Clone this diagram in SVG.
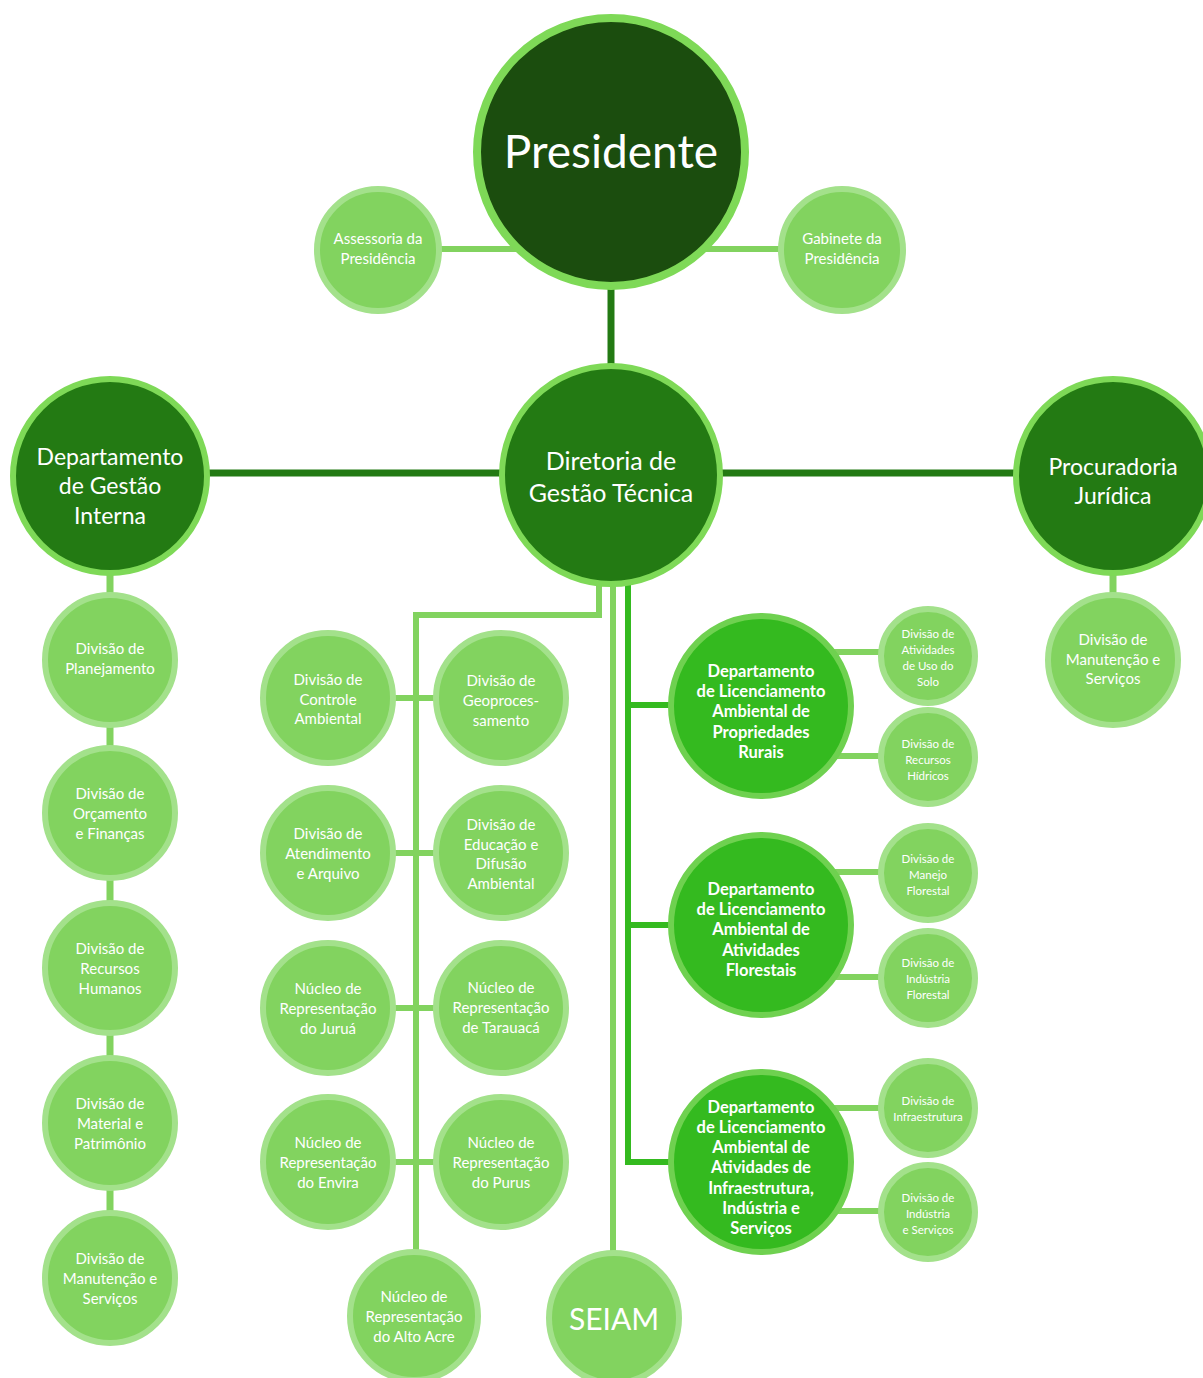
<svg xmlns="http://www.w3.org/2000/svg" width="1203" height="1378" viewBox="0 0 1203 1378">
<style>
.bg{fill:#ffffff}
.cd{stroke:#237A13;stroke-width:7;fill:none}
.cl{stroke:#82D35F;stroke-width:6;fill:none}
.cb{stroke:#34BA1F;stroke-width:6;fill:none}
.pres{fill:#1B4D0E;stroke:#7ED957;stroke-width:8}
.dk{fill:#237A13;stroke:#7ED957;stroke-width:6}
.lic{fill:#34BA1F;stroke:#6FD150;stroke-width:6}
.lt{fill:#82D35F;stroke:#A3E18B;stroke-width:6}
text{font-family:Lato,"Open Sans","Liberation Sans",sans-serif;fill:#ffffff;text-anchor:middle;dominant-baseline:central}
.t46{font-size:46px}
.t23{font-size:23px}
.t24{font-size:25px}
.t15{font-size:15px}
.tb{font-size:16.5px;font-weight:bold}
.t11{font-size:11.5px}
.t30{font-size:30px}
</style>
<rect class="bg" x="0" y="0" width="1203" height="1378"/>
<g id="connectors">
<line class="cl" x1="440" y1="249" x2="525" y2="249"/>
<line class="cl" x1="697" y1="249" x2="782" y2="249"/>
<line class="cd" x1="611" y1="286" x2="611" y2="368"/>
<line class="cd" x1="205" y1="473" x2="1018" y2="473"/>
<line class="cl" x1="110" y1="570" x2="110" y2="1215" style="stroke-width:7"/>
<line class="cl" x1="1113" y1="570" x2="1113" y2="598" style="stroke-width:7"/>
<path class="cl" d="M599 580 V615 H416 V1252"/>
<line class="cl" x1="380" y1="698" x2="450" y2="698"/>
<line class="cl" x1="380" y1="853" x2="450" y2="853"/>
<line class="cl" x1="380" y1="1008" x2="450" y2="1008"/>
<line class="cl" x1="380" y1="1162" x2="450" y2="1162"/>
<line class="cl" x1="613" y1="582" x2="613" y2="1255"/>
<path class="cb" d="M628 582 V1162 H672"/>
<line class="cb" x1="628" y1="705" x2="672" y2="705"/>
<line class="cb" x1="628" y1="925" x2="672" y2="925"/>
<line class="cl" x1="830" y1="652" x2="885" y2="652"/>
<line class="cl" x1="830" y1="756" x2="885" y2="756"/>
<line class="cl" x1="830" y1="872" x2="885" y2="872"/>
<line class="cl" x1="830" y1="977" x2="885" y2="977"/>
<line class="cl" x1="830" y1="1108" x2="885" y2="1108"/>
<line class="cl" x1="830" y1="1211" x2="885" y2="1211"/>
</g>
<g id="presidente"><circle class="pres" cx="611" cy="152" r="134"/><text class="t46" x="611" y="150">Presidente</text></g>
<g id="assessoria"><circle class="lt" cx="378" cy="250" r="61"/><text class="t15" x="378" y="238">Assessoria da</text><text class="t15" x="378" y="258">Presidência</text></g>
<g id="gabinete"><circle class="lt" cx="842" cy="250" r="61"/><text class="t15" x="842" y="238">Gabinete da</text><text class="t15" x="842" y="258">Presidência</text></g>
<g id="diretoria"><circle class="dk" cx="611" cy="475" r="109"/><text class="t24" x="611" y="460">Diretoria de</text><text class="t24" x="611" y="492">Gestão Técnica</text></g>
<g id="dgi"><circle class="dk" cx="110" cy="476" r="97"/><text class="t23" x="110" y="456">Departamento</text><text class="t23" x="110" y="485">de Gestão</text><text class="t23" x="110" y="515">Interna</text></g>
<g id="procuradoria"><circle class="dk" cx="1113" cy="476" r="97"/><text class="t23" x="1113" y="466">Procuradoria</text><text class="t23" x="1113" y="495">Jurídica</text></g>
<g id="planejamento"><circle class="lt" cx="110" cy="660" r="65"/><text class="t15" x="110" y="648">Divisão de</text><text class="t15" x="110" y="668">Planejamento</text></g>
<g id="orcamento"><circle class="lt" cx="110" cy="813" r="65"/><text class="t15" x="110" y="793">Divisão de</text><text class="t15" x="110" y="813">Orçamento</text><text class="t15" x="110" y="833">e Finanças</text></g>
<g id="rh"><circle class="lt" cx="110" cy="968" r="65"/><text class="t15" x="110" y="948">Divisão de</text><text class="t15" x="110" y="968">Recursos</text><text class="t15" x="110" y="988">Humanos</text></g>
<g id="material"><circle class="lt" cx="110" cy="1123" r="65"/><text class="t15" x="110" y="1103">Divisão de</text><text class="t15" x="110" y="1123">Material e</text><text class="t15" x="110" y="1143">Patrimônio</text></g>
<g id="manutencao1"><circle class="lt" cx="110" cy="1278" r="65"/><text class="t15" x="110" y="1258">Divisão de</text><text class="t15" x="110" y="1278">Manutenção e</text><text class="t15" x="110" y="1298">Serviços</text></g>
<g id="manutencao2"><circle class="lt" cx="1113" cy="660" r="65"/><text class="t15" x="1113" y="639">Divisão de</text><text class="t15" x="1113" y="659">Manutenção e</text><text class="t15" x="1113" y="678">Serviços</text></g>
<g id="controle"><circle class="lt" cx="328" cy="698" r="65"/><text class="t15" x="328" y="679">Divisão de</text><text class="t15" x="328" y="699">Controle</text><text class="t15" x="328" y="718">Ambiental</text></g>
<g id="geo"><circle class="lt" cx="501" cy="698" r="65"/><text class="t15" x="501" y="680">Divisão de</text><text class="t15" x="501" y="700">Geoproces-</text><text class="t15" x="501" y="720">samento</text></g>
<g id="atendimento"><circle class="lt" cx="328" cy="853" r="65"/><text class="t15" x="328" y="833">Divisão de</text><text class="t15" x="328" y="853">Atendimento</text><text class="t15" x="328" y="873">e Arquivo</text></g>
<g id="educacao"><circle class="lt" cx="501" cy="853" r="65"/><text class="t15" x="501" y="824">Divisão de</text><text class="t15" x="501" y="844">Educação e</text><text class="t15" x="501" y="863">Difusão</text><text class="t15" x="501" y="883">Ambiental</text></g>
<g id="jurua"><circle class="lt" cx="328" cy="1008" r="65"/><text class="t15" x="328" y="988">Núcleo de</text><text class="t15" x="328" y="1008">Representação</text><text class="t15" x="328" y="1028">do Juruá</text></g>
<g id="tarauaca"><circle class="lt" cx="501" cy="1008" r="65"/><text class="t15" x="501" y="987">Núcleo de</text><text class="t15" x="501" y="1007">Representação</text><text class="t15" x="501" y="1027">de Tarauacá</text></g>
<g id="envira"><circle class="lt" cx="328" cy="1162" r="65"/><text class="t15" x="328" y="1142">Núcleo de</text><text class="t15" x="328" y="1162">Representação</text><text class="t15" x="328" y="1182">do Envira</text></g>
<g id="purus"><circle class="lt" cx="501" cy="1162" r="65"/><text class="t15" x="501" y="1142">Núcleo de</text><text class="t15" x="501" y="1162">Representação</text><text class="t15" x="501" y="1182">do Purus</text></g>
<g id="altoacre"><circle class="lt" cx="414" cy="1316" r="64"/><text class="t15" x="414" y="1296">Núcleo de</text><text class="t15" x="414" y="1316">Representação</text><text class="t15" x="414" y="1336">do Alto Acre</text></g>
<g id="seiam"><circle class="lt" cx="614" cy="1318" r="65"/><text class="t30" x="614" y="1318">SEIAM</text></g>
<g id="lic1"><circle class="lic" cx="761" cy="706" r="90"/><text class="tb" x="761" y="671">Departamento</text><text class="tb" x="761" y="691">de Licenciamento</text><text class="tb" x="761" y="711">Ambiental de</text><text class="tb" x="761" y="732">Propriedades</text><text class="tb" x="761" y="752">Rurais</text></g>
<g id="lic2"><circle class="lic" cx="761" cy="925" r="90"/><text class="tb" x="761" y="889">Departamento</text><text class="tb" x="761" y="909">de Licenciamento</text><text class="tb" x="761" y="929">Ambiental de</text><text class="tb" x="761" y="950">Atividades</text><text class="tb" x="761" y="970">Florestais</text></g>
<g id="lic3"><circle class="lic" cx="761" cy="1162" r="90"/><text class="tb" x="761" y="1107">Departamento</text><text class="tb" x="761" y="1127">de Licenciamento</text><text class="tb" x="761" y="1147">Ambiental de</text><text class="tb" x="761" y="1167">Atividades de</text><text class="tb" x="761" y="1188">Infraestrutura,</text><text class="tb" x="761" y="1208">Indústria e</text><text class="tb" x="761" y="1228">Serviços</text></g>
<g id="usosolo"><circle class="lt" cx="928" cy="656" r="47"/><text class="t11" x="928" y="633">Divisão de</text><text class="t11" x="928" y="649">Atividades</text><text class="t11" x="928" y="665">de Uso do</text><text class="t11" x="928" y="681">Solo</text></g>
<g id="hidricos"><circle class="lt" cx="928" cy="757" r="47"/><text class="t11" x="928" y="743">Divisão de</text><text class="t11" x="928" y="759">Recursos</text><text class="t11" x="928" y="775">Hídricos</text></g>
<g id="manejo"><circle class="lt" cx="928" cy="873" r="47"/><text class="t11" x="928" y="858">Divisão de</text><text class="t11" x="928" y="874">Manejo</text><text class="t11" x="928" y="890">Florestal</text></g>
<g id="indflorestal"><circle class="lt" cx="928" cy="978" r="47"/><text class="t11" x="928" y="962">Divisão de</text><text class="t11" x="928" y="978">Indústria</text><text class="t11" x="928" y="994">Florestal</text></g>
<g id="infra"><circle class="lt" cx="928" cy="1108" r="47"/><text class="t11" x="928" y="1100">Divisão de</text><text class="t11" x="928" y="1116">Infraestrutura</text></g>
<g id="indservicos"><circle class="lt" cx="928" cy="1212" r="47"/><text class="t11" x="928" y="1197">Divisão de</text><text class="t11" x="928" y="1213">Indústria</text><text class="t11" x="928" y="1229">e Serviços</text></g>
</svg>
